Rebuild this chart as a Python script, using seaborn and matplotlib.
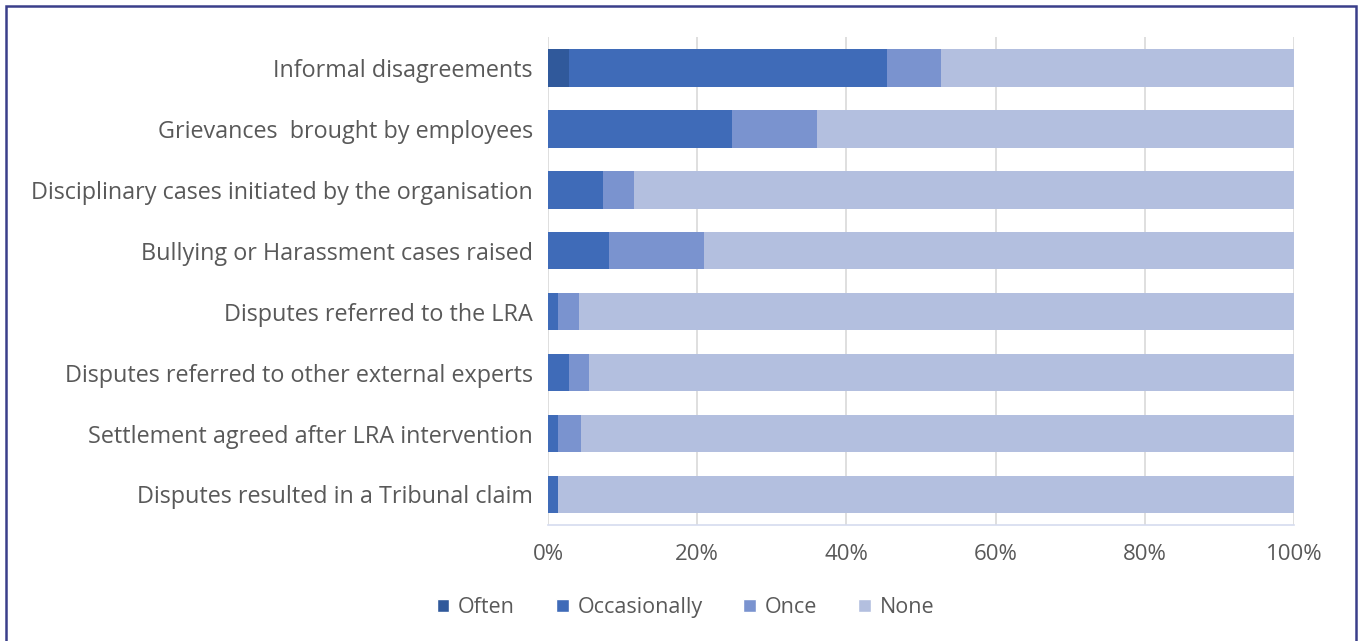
import numpy as np
import pandas as pd
import matplotlib
matplotlib.use('Agg')
import matplotlib.pyplot as plt
import seaborn as sns
from matplotlib.patches import Rectangle, Patch
from matplotlib.ticker import PercentFormatter

# Data (share of organisations, %)
categories = ['Informal disagreements',
              'Grievances  brought by employees',
              'Disciplinary cases initiated by the organisation',
              'Bullying or Harassment cases raised',
              'Disputes referred to the LRA',
              'Disputes referred to other external experts',
              'Settlement agreed after LRA intervention',
              'Disputes resulted in a Tribunal claim']
often = [2.8, 0, 0, 0, 0, 0, 0, 0]
occasionally = [42.6, 24.7, 7.3, 8.1, 1.3, 2.8, 1.3, 1.3]
once = [7.3, 11.3, 4.2, 12.8, 2.9, 2.7, 3.1, 0]
none = [47.3, 64.0, 88.5, 79.1, 95.8, 94.5, 95.6, 98.7]

series = ['Often', 'Occasionally', 'Once', 'None']
colors = ['#30599B', '#3F6BB8', '#7A93CF', '#B3BFDF']

df = pd.DataFrame({'Category': categories, 'Often': often,
                   'Occasionally': occasionally, 'Once': once, 'None': none})
cum = df[series].cumsum(axis=1)

sns.set_style('white')
plt.rcParams['font.family'] = ['Open Sans', 'DejaVu Sans']

fig = plt.figure(figsize=(13.6, 6.41), dpi=100)
ax = fig.add_axes([0.403, 0.181, 0.5485, 0.761])

# stacked bars: draw cumulative totals from the outermost segment inward
for s, c in reversed(list(zip(series, colors))):
    sns.barplot(x=cum[s], y=df['Category'], color=c, orient='h',
                width=0.62, ax=ax, linewidth=0, saturation=1)

ax.set_xlim(0, 100)
ax.set_xticks(np.arange(0, 101, 20))
ax.xaxis.set_major_formatter(PercentFormatter(decimals=0))
ax.grid(axis='x', color='#D9D9D9', linewidth=1.2)
ax.set_axisbelow(True)
for sp in ['top', 'right', 'left']:
    ax.spines[sp].set_visible(False)
ax.spines['bottom'].set_color('#D6DCEF')
ax.spines['bottom'].set_linewidth(1.2)
ax.set_xlabel('')
ax.set_ylabel('')
ax.tick_params(axis='x', length=0, labelsize=16, colors='#595959', pad=14)
ax.tick_params(axis='y', length=0, labelsize=16.8, colors='#595959', pad=11)

handles = [Patch(facecolor=c, label=s) for s, c in zip(series, colors)]
fig.legend(handles=handles, loc='center', bbox_to_anchor=(0.504, 0.052), ncol=4,
           frameon=False, fontsize=15.5, labelcolor='#595959',
           handlelength=0.6, handleheight=0.6, handletextpad=0.4, columnspacing=1.9)

# chart frame
fig.patches.append(Rectangle((6 / 1360, -0.05), 1350 / 1360, 1 - 6 / 641 + 0.05,
                             transform=fig.transFigure, fill=False,
                             edgecolor='#3A3F8A', linewidth=1.8))

fig.savefig('out.png', dpi=100)
